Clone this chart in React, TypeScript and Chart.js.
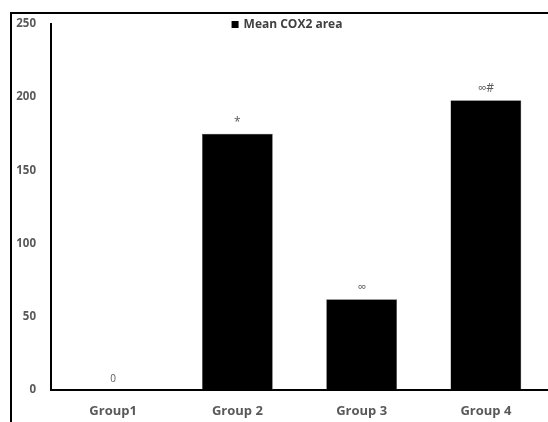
import React, { useEffect, useRef } from "react";
import { Chart, registerables } from "chart.js";

Chart.register(...registerables);

const categories = ["Group1", "Group 2", "Group 3", "Group 4"];
const meanCox2Area = [0, 175, 62, 198];
const significanceLabels = ["0", "*", "∞", "∞#"];
const seriesLabel = "Mean COX2 area";
const yTicks = [0, 50, 100, 150, 200, 250];

const FONT = "'Open Sans', 'DejaVu Sans', sans-serif";

const framePlugin = {
  id: "frame",
  beforeDraw(chart: any) {
    const ctx = chart.ctx;
    ctx.save();
    ctx.strokeStyle = "#000";
    ctx.lineWidth = 2;
    ctx.beginPath();
    ctx.moveTo(11, chart.height);
    ctx.lineTo(11, 13);
    ctx.lineTo(chart.width, 13);
    ctx.stroke();
    ctx.restore();
  },
};

const labelsPlugin = {
  id: "barLabels",
  afterDatasetsDraw(chart: any) {
    const ctx = chart.ctx;
    const meta = chart.getDatasetMeta(0);
    ctx.save();
    ctx.fillStyle = "#595959";
    ctx.textAlign = "center";
    ctx.textBaseline = "alphabetic";
    meta.data.forEach((bar: any, i: number) => {
      const txt = significanceLabels[i];
      ctx.font = `400 ${txt === "0" ? 10 : 12}px ${FONT}`;
      ctx.fillText(txt, bar.x, bar.y - 8);
    });
    // legend
    const cx = 287;
    ctx.font = `700 12px ${FONT}`;
    const w = ctx.measureText(seriesLabel).width;
    const box = 7;
    const gap = 5;
    const total = box + gap + w;
    const x0 = cx - total / 2;
    ctx.fillStyle = "#000";
    ctx.fillRect(x0, 21, box, box);
    ctx.fillStyle = "#404040";
    ctx.textAlign = "left";
    ctx.textBaseline = "middle";
    ctx.fillText(seriesLabel, x0 + box + gap, 25);
    ctx.restore();
  },
};

export default function App() {
  const ref = useRef<HTMLCanvasElement | null>(null);
  useEffect(() => {
    document.body.style.margin = "0";
    document.body.style.overflow = "hidden";
    if (!ref.current) return;
    const chart = new Chart(ref.current, {
      type: "bar",
      data: {
        labels: categories,
        datasets: [
          {
            label: seriesLabel,
            data: meanCox2Area,
            backgroundColor: "#000",
            borderColor: "#555",
            borderWidth: 0.5,
            barPercentage: 0.57,
            categoryPercentage: 1,
          },
        ],
      },
      options: {
        animation: false,
        responsive: false,
        layout: { padding: { left: 0, right: 0, top: 24, bottom: 0 } },
        plugins: { legend: { display: false }, tooltip: { enabled: false } },
        scales: {
          x: {
            grid: { display: false, drawTicks: false },
            border: { display: true, color: "#000", width: 2 },
            ticks: {
              color: "#595959",
              font: { family: FONT, size: 13, weight: "bold" },
              padding: 13,
            },
            afterFit(scale: any) {
              scale.height = 32;
            },
          },
          y: {
            min: 0,
            max: 250,
            afterBuildTicks(scale: any) {
              scale.ticks = yTicks.map((v) => ({ value: v }));
            },
            grid: { display: false, drawTicks: false },
            border: { display: true, color: "#000", width: 2 },
            ticks: {
              color: "#595959",
              font: { family: FONT, size: 11.5, weight: "bold" },
              padding: 15,
            },
            afterFit(scale: any) {
              scale.width = 51;
            },
          },
        },
      },
      plugins: [framePlugin, labelsPlugin],
    });
    return () => chart.destroy();
  }, []);
  return (
    <div style={{ position: "absolute", left: 0, top: 0, width: 548, height: 422, background: "#fff" }}>
      <canvas ref={ref} width={548} height={422} style={{ width: 548, height: 422, display: "block" }} />
    </div>
  );
}
